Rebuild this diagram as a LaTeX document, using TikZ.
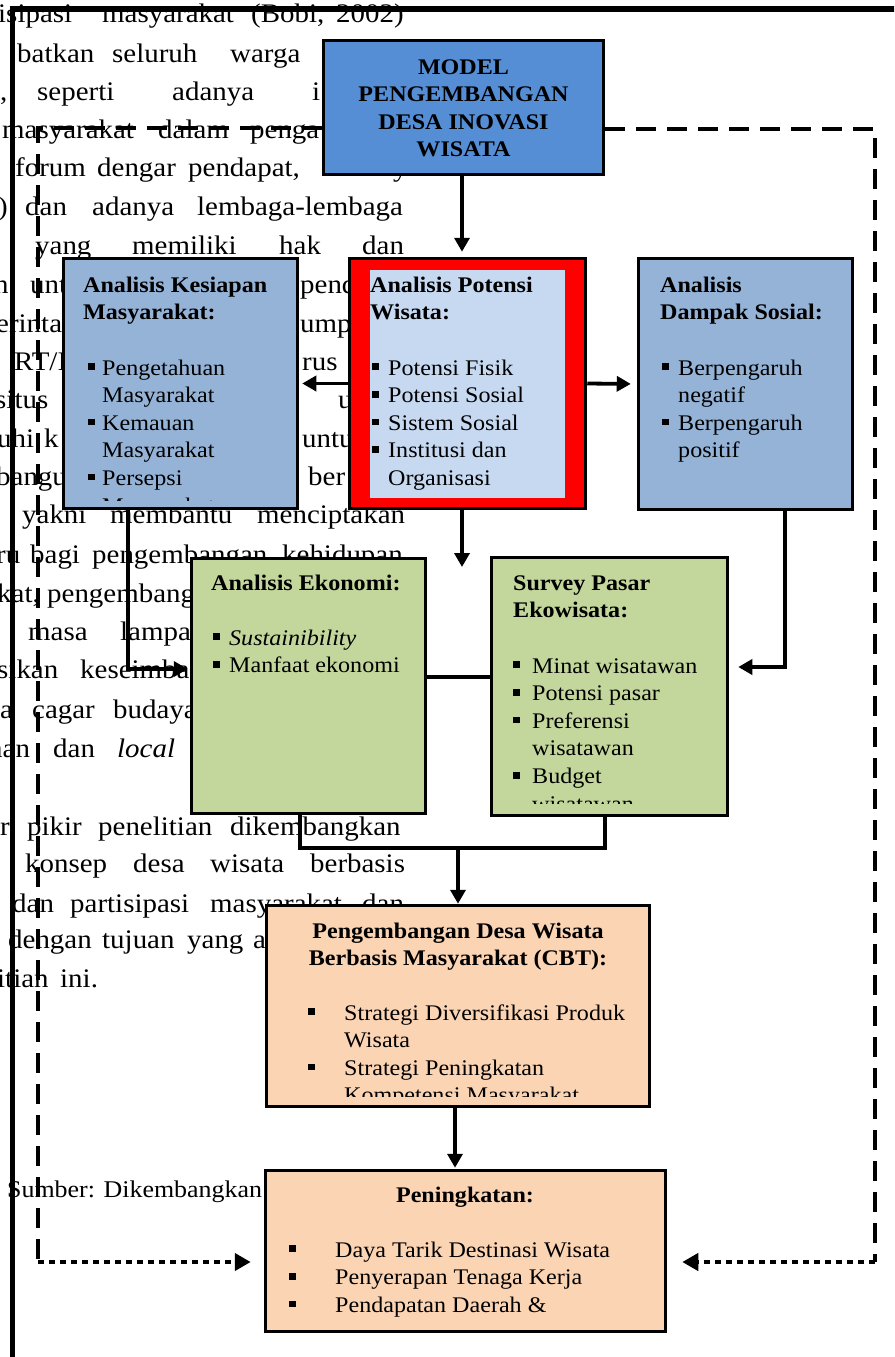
\documentclass[tikz,border=0pt]{standalone}
\usepackage{fontspec}
\setmainfont[FakeStretch=1.08]{Liberation Serif}
\usetikzlibrary{arrows.meta}
\definecolor{modelblue}{RGB}{85,142,213}
\definecolor{steel}{RGB}{149,179,215}
\definecolor{paleblue}{RGB}{198,217,241}
\definecolor{olivegreen}{RGB}{195,214,155}
\definecolor{peach}{RGB}{251,212,180}
\newcommand{\bsq}{\rule[0.22em]{0.3em}{0.3em}}
\newcommand{\itm}[2]{\makebox[#1][l]{\bsq}#2}
\newcommand{\cnt}[2]{\hspace*{#1}#2}
\newcounter{bgc}
\newcommand{\bw}[3]{\stepcounter{bgc}\node[bgtext] (bg\arabic{bgc}) at (#1,#2) {#3};}
\begin{document}
\begin{tikzpicture}[x=1pt,y=-1pt,
  bgtext/.style={anchor=base west, inner sep=0pt, font=\fontsize{26.8}{32}\selectfont},
  boxtext/.style={anchor=base west, inner sep=0pt, font=\fontsize{22.3}{27.6}\selectfont},
  boxhead/.style={anchor=base, inner sep=0pt, font=\fontsize{22.3}{27.6}\selectfont\bfseries},
  box/.style={draw, line width=3.5pt, inner sep=0pt},
  conn/.style={line width=3.8pt},
  arr/.style={conn, -{Triangle[length=14pt,width=15pt]}},
  dashline/.style={line width=3.8pt, dash pattern=on 20pt off 11pt},
  dotarr/.style={line width=4pt, dash pattern=on 6pt off 5pt, -{Triangle[length=16pt,width=17pt]}},
  frameline/.style={line width=5.5pt}
]
\useasboundingbox (0,0) rectangle (894,1357);
\clip (0,0) rectangle (894,1357);

% background paragraph fragments
\bw{-2}{22}{isipasi}\bw{102}{22}{masyarakat}\bw{251}{22}{(Bobi,}\bw{336}{22}{2002)}
\bw{17}{62}{batkan}\bw{112}{62}{seluruh}\bw{230}{62}{warga}
\bw{0}{100}{,}\bw{37}{100}{seperti}\bw{172}{100}{adanya}\bw{312}{100}{i}
\bw{2}{138}{masyarakat}\bw{158}{138}{dalam}\bw{250}{138}{penga}
\bw{15}{176}{forum}\bw{97}{176}{dengar}\bw{188}{176}{pendapat,}\bw{393}{176}{y}
\bw{-2}{215}{)}\bw{25}{215}{dan}\bw{92}{215}{adanya}\bw{197}{215}{lembaga-lembaga}
\bw{35}{254}{yang}\bw{132}{254}{memiliki}\bw{279}{254}{hak}\bw{362}{254}{dan}
\bw{-6}{293}{n}\bw{30}{293}{unt}\bw{300}{293}{pend}
\bw{-4}{332}{erinta}\bw{300}{332}{ump}
\bw{14}{370}{RT/I}\bw{302}{370}{rus}
\bw{-5}{408}{situs}\bw{338}{408}{u}
\bw{-3}{447}{uhi}\bw{44}{447}{k}\bw{302}{447}{untu}
\bw{-4}{485}{bangu}\bw{308}{485}{ber}
\bw{22}{523}{yakni}\bw{110}{523}{membantu}\bw{257}{523}{menciptakan}
\bw{-4}{563}{ru}\bw{30}{563}{bagi}\bw{92}{563}{pengembangan}\bw{282}{563}{kehidupan}
\bw{-3}{602}{kat,}\bw{47}{602}{pengembang}
\bw{28}{640}{masa}\bw{120}{640}{lampa}
\bw{-3}{678}{sikan}\bw{80}{678}{keseimba}
\bw{0}{718}{a}\bw{32}{718}{cagar}\bw{113}{718}{budaya}
\bw{-12}{757}{nan}\bw{53}{757}{dan}\bw{117}{757}{\textit{local}}
\bw{0}{835}{r}\bw{27}{835}{pikir}\bw{98}{835}{penelitian}\bw{230}{835}{dikembangkan}
\bw{25}{872}{konsep}\bw{133}{872}{desa}\bw{210}{872}{wisata}\bw{310}{872}{berbasis}
\bw{12}{912}{dan}\bw{70}{912}{partisipasi}\bw{210}{912}{masyarakat}\bw{362}{912}{dan}
\bw{8}{948}{dengan}\bw{102}{948}{tujuan}\bw{187}{948}{yang}\bw{253}{948}{a}
\bw{-3}{987}{itian}\bw{60}{987}{ini.}
\node[bgtext, font=\fontsize{24}{28}\selectfont] (sumber) at (7,1197) {Sumber: Dikembangkan};

% page frame lines
\coordinate (fb) at (12.5,1360);
\coordinate (fc) at (12.5,9);
\coordinate (fr) at (897,9);
\draw[frameline] (fb) -- (fc) -- (fr);

% boxes
\node[box, fill=modelblue, minimum width=280pt, minimum height=134pt] (model) at (463.5,107.5) {};
\node[box, fill=steel, minimum width=234pt, minimum height=250pt] (kes) at (180.5,383.5) {};
\node[box, fill=red, minimum width=236pt, minimum height=250pt] (pot) at (467.5,383.5) {};
\fill[paleblue] (370,270) rectangle (565,498);
\node[box, fill=steel, minimum width=214pt, minimum height=251pt] (dam) at (745.5,384) {};
\node[box, fill=olivegreen, minimum width=234pt, minimum height=255pt] (eko) at (308.5,686) {};
\node[box, fill=olivegreen, minimum width=236pt, minimum height=258pt] (sur) at (609.5,686.5) {};
\node[box, fill=peach, minimum width=383pt, minimum height=201pt] (cbt) at (458,1006) {};
\node[box, fill=peach, minimum width=400pt, minimum height=161pt] (pen) at (465.5,1251) {};

% box texts
\node[boxhead] (modelt) at (463.5,74) {\parbox[t]{270pt}{\centering MODEL\\PENGEMBANGAN\\DESA INOVASI\\WISATA}};

\node[boxtext] (kesh) at (83,292) {\parbox[t]{210pt}{\bfseries Analisis Kesiapan\\Masyarakat:}};
\begin{scope}
\clip (62,257) rectangle (299,500);
\node[boxtext] (kesl) at (88,375) {\parbox[t]{205pt}{\itm{14pt}{Pengetahuan}\\\cnt{14pt}{Masyarakat}\\\itm{14pt}{Kemauan}\\\cnt{14pt}{Masyarakat}\\\itm{14pt}{Persepsi}\\\cnt{14pt}{Masyarakat}}};
\end{scope}

\node[boxtext] (poth) at (370,292) {\parbox[t]{195pt}{\bfseries Analisis Potensi\\Wisata:}};
\node[boxtext] (potl) at (372,375) {\parbox[t]{190pt}{\itm{16pt}{Potensi Fisik}\\\itm{16pt}{Potensi Sosial}\\\itm{16pt}{Sistem Sosial}\\\itm{16pt}{Institusi dan}\\\cnt{16pt}{Organisasi}}};

\node[boxtext] (damh) at (660,292) {\parbox[t]{190pt}{\bfseries Analisis\\Dampak Sosial:}};
\node[boxtext] (daml) at (662,375) {\parbox[t]{185pt}{\itm{16pt}{Berpengaruh}\\\cnt{16pt}{negatif}\\\itm{16pt}{Berpengaruh}\\\cnt{16pt}{positif}}};

\node[boxtext] (ekoh) at (211,590) {\parbox[t]{210pt}{\bfseries Analisis Ekonomi:}};
\node[boxtext] (ekol) at (213,645) {\parbox[t]{205pt}{\itm{16pt}{\textit{Sustainibility}}\\\itm{16pt}{Manfaat ekonomi}}};

\node[boxtext] (surh) at (513,590) {\parbox[t]{210pt}{\bfseries Survey Pasar\\Ekowisata:}};
\begin{scope}
\clip (490,556) rectangle (729,803);
\node[boxtext] (surl) at (513,673) {\parbox[t]{210pt}{\itm{19pt}{Minat wisatawan}\\\itm{19pt}{Potensi pasar}\\\itm{19pt}{Preferensi}\\\cnt{19pt}{wisatawan}\\\itm{19pt}{Budget}\\\cnt{19pt}{wisatawan}}};
\end{scope}

\node[boxhead] (cbth) at (458,938) {\parbox[t]{380pt}{\centering Pengembangan Desa Wisata\\Berbasis Masyarakat (CBT):}};
\begin{scope}
\clip (265,904) rectangle (651,1096);
\node[boxtext] (cbtl) at (308,1020) {\parbox[t]{340pt}{\itm{36pt}{Strategi Diversifikasi Produk}\\\cnt{36pt}{Wisata}\\\itm{36pt}{Strategi Peningkatan}\\\cnt{36pt}{Kompetensi Masyarakat}}};
\end{scope}

\node[boxhead] (penh) at (465,1202) {Peningkatan:};
\node[boxtext] (penl) at (289,1257) {\parbox[t]{370pt}{\itm{46pt}{Daya Tarik Destinasi Wisata}\\\itm{46pt}{Penyerapan Tenaga Kerja}\\\itm{46pt}{Pendapatan Daerah \&}}};

% dashed feedback lines
\coordinate (dl1) at (38,128);
\coordinate (dl2) at (38,1262);
\coordinate (dr1) at (875,129);
\coordinate (dr2) at (875,1262);
\draw[dashline] (model.west |- dl1) -- (dl1) -- (dl2);
\draw[dashline] (model.east |- dr1) -- (dr1) -- (dr2);
\draw[dotarr, shorten >=13pt] (dl2) -- (pen.west |- dl2);
\draw[dotarr, shorten >=15pt] (dr2) -- (pen.east |- dr2);

% connectors
\coordinate (mx) at (462,0);
\draw[arr, shorten >=5pt] (model.south -| mx) -- (pot.north -| mx);
\draw[arr, shorten >=3pt] (pot.west) -- (kes.east);
\draw[arr, shorten >=6pt] (pot.east) -- (dam.east -| dam.west);
\coordinate (potend) at (462,567);
\draw[arr] (pot.south -| potend) -- (potend);
\coordinate (kbend) at (128,669);
\draw[arr, shorten >=2pt] (kes.south -| kbend) |- (eko.west |- kbend);
\coordinate (dbend) at (785,667);
\draw[arr, shorten >=9pt] (dam.south -| dbend) |- (sur.east |- dbend);
\coordinate (es) at (0,677);
\draw[conn] (eko.east |- es) -- (sur.west |- es);
\coordinate (m1) at (300,848);
\coordinate (m2) at (605,848);
\draw[conn] (eko.south -| m1) -- (m1) -- (m2) -- (sur.south -| m2);
\draw[arr] (cbt.north |- m1) -- (cbt.north);
\coordinate (cx) at (455,0);
\draw[arr, shorten >=1pt] (cbt.south -| cx) -- (pen.north -| cx);
\end{tikzpicture}
\end{document}
